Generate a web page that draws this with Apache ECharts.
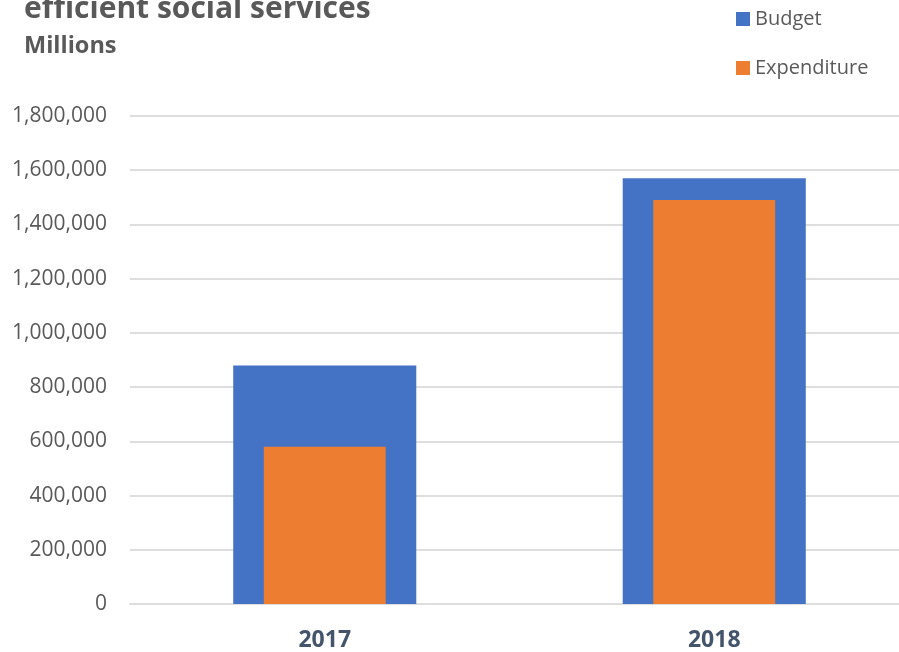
<!DOCTYPE html>
<html>
<head>
<meta charset="utf-8">
<script src="https://cdn.jsdelivr.net/npm/echarts@6/dist/echarts.min.js"></script>
<style>
  html, body { margin: 0; padding: 0; background: #ffffff; }
  #chart { width: 899px; height: 652px; }
</style>
</head>
<body>
<div id="chart"></div>
<script>
// Budget vs. expenditure for efficient social services (millions)
const years = ['2017', '2018'];
const budget = [880000, 1570000];
const expenditure = [580000, 1490000];
const seriesNames = ['Budget', 'Expenditure'];
const yTicks = { min: 0, max: 1800000, interval: 200000 };

const FONT = '"Open Sans", "Noto Sans", sans-serif';
const GREY = '#595959';
const GRID_LINE = '#dedede';

const chart = echarts.init(document.getElementById('chart'), null, { renderer: 'canvas' });

// The plot area runs slightly past the right edge of the canvas.
const gridBox = { left: 130, top: 116, width: 779, height: 488, outerBoundsMode: 'none', containLabel: false };

chart.setOption({
  animation: false,
  backgroundColor: '#ffffff',
  title: [
    {
      text: 'efficient social services',
      left: 24, top: -6, padding: 0,
      textStyle: { fontFamily: FONT, fontWeight: 'bold', fontSize: 30, color: GREY }
    },
    {
      text: 'Millions',
      left: 24, top: 34, padding: 0,
      textStyle: { fontFamily: FONT, fontWeight: 'bold', fontSize: 23.5, color: GREY }
    }
  ],
  legend: {
    orient: 'vertical',
    left: 736, top: 9,
    padding: 0,
    itemWidth: 14, itemHeight: 14,
    itemGap: 29,
    icon: 'rect',
    data: seriesNames,
    textStyle: { fontFamily: FONT, fontSize: 20, color: GREY, padding: [0, 0, 0, 0] }
  },
  grid: gridBox,
  xAxis: [
    {
      type: 'category',
      data: years,
      axisTick: { show: false },
      axisLine: { lineStyle: { color: GRID_LINE, width: 2 } },
      axisLabel: {
        margin: 25,
        fontFamily: FONT, fontWeight: 'bold', fontSize: 23, color: '#44546A'
      }
    },
    {
      type: 'category',
      data: years,
      show: false
    }
  ],
  yAxis: {
    type: 'value',
    min: yTicks.min, max: yTicks.max, interval: yTicks.interval,
    axisLine: { show: false },
    axisTick: { show: false },
    splitLine: { lineStyle: { color: GRID_LINE, width: 2 } },
    axisLabel: {
      margin: 23,
      fontFamily: FONT, fontSize: 21, color: GREY,
      formatter: v => v.toLocaleString('en-US')
    }
  },
  series: [
    {
      name: seriesNames[0],
      type: 'bar',
      xAxisIndex: 0,
      data: budget,
      barWidth: '47%',
      itemStyle: { color: '#4472C4' }
    },
    {
      name: seriesNames[1],
      type: 'bar',
      xAxisIndex: 1,
      data: expenditure,
      barWidth: '31.3%',
      itemStyle: { color: '#ED7D31' }
    }
  ]
});
</script>
</body>
</html>
